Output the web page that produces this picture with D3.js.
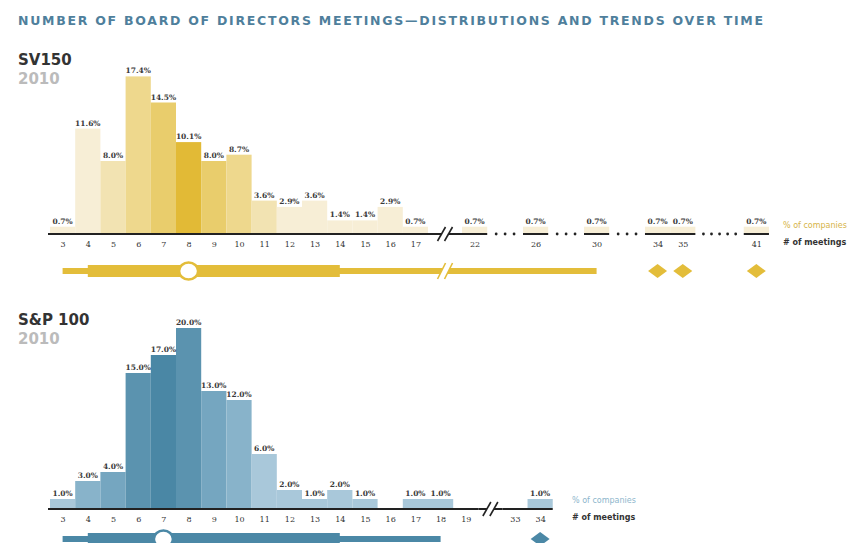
<!DOCTYPE html>
<html>
<head>
<meta charset="utf-8">
<script src="https://cdnjs.cloudflare.com/ajax/libs/d3/7.8.5/d3.min.js"></script>
<style>
  body { margin: 0; background: #fff; }
</style>
</head>
<body>
<div id="chart"></div>
<script>
// SV150 distribution (share of companies by # of meetings)
var svBins = [3, 4, 5, 6, 7, 8, 9, 10, 11, 12, 13, 14, 15, 16, 17, 22, 26, 30, 34, 35, 41];
var svPct = [0.7, 11.6, 8.0, 17.4, 14.5, 10.1, 8.0, 8.7, 3.6, 2.9, 3.6, 1.4, 1.4, 2.9, 0.7, 0.7, 0.7, 0.7, 0.7, 0.7, 0.7];
var svBox = [3, 4, 8, 14, 30];   // low whisker, box start, median, box end, high whisker
var svOutliers = [34, 35, 41];

// S&P 100 distribution
var spBins = [3, 4, 5, 6, 7, 8, 9, 10, 11, 12, 13, 14, 15, 16, 17, 18, 19, 33, 34];
var spPct = [1.0, 3.0, 4.0, 15.0, 17.0, 20.0, 13.0, 12.0, 6.0, 2.0, 1.0, 2.0, 1.0, 0, 1.0, 1.0, 0, 0, 1.0];
var spBox = [3, 4, 7, 14, 18];
var spOutliers = [34];

var width = 859, height = 543;

var panels = [
  { name: "SV150", year: "2010", bins: svBins, pct: svPct, box: svBox, outliers: svOutliers,
    breakAfter: 17, breakGap: 1.35, baseline: 233, boxY: 271, nameY: 65, yearY: 84,
    shades: ["#e2ba36", "#e9cd6c", "#eed88d", "#f2e3b2", "#f7eed6"],
    boxColor: "#e3bd3a", legendColor: "#d6b448", legendX: 783 },
  { name: "S&P 100", year: "2010", bins: spBins, pct: spPct, box: spBox, outliers: spOutliers,
    breakAfter: 19, breakGap: 0.95, baseline: 508, boxY: 539, nameY: 325, yearY: 344,
    shades: ["#4a87a5", "#5b93af", "#75a6c0", "#88b3ca", "#a9c8da"],
    boxColor: "#4b88a6", legendColor: "#8db6cc", legendX: 572 }
];

var svg = d3.select("#chart").append("svg")
    .attr("width", width)
    .attr("height", height);

// header
svg.append("text")
    .attr("x", 18)
    .attr("y", 25)
    .attr("textLength", 745)
    .attr("lengthAdjust", "spacing")
    .style("font-family", "DejaVu Sans")
    .style("font-weight", "bold")
    .style("font-size", "12.5px")
    .style("fill", "#4f7f9c")
    .text("NUMBER OF BOARD OF DIRECTORS MEETINGS—DISTRIBUTIONS AND TRENDS OVER TIME");

// one slot = one meeting count column
var xSlot = d3.scaleLinear().domain([0, 1]).range([50, 75.2]);
var y = d3.scaleLinear().domain([0, 20]).range([0, 180]);
var fmt = d3.format(".1f");

function slotsFor(p) {
  var s = [0];
  for (var i = 1; i < p.bins.length; i++) {
    var prev = p.bins[i - 1], diff = p.bins[i] - prev;
    if (diff == 1) s.push(s[i - 1] + 1);
    else if (prev == p.breakAfter) s.push(s[i - 1] + 1 + p.breakGap);
    else s.push(s[i - 1] + 1 + 0.42 + 0.25 * diff);
  }
  return s;
}

panels.forEach(function (p) {
  var slots = slotsFor(p);
  var centers = slots.map(function (s) { return xSlot(s + 0.5); });
  var xc = d3.scaleOrdinal(p.bins, centers);
  var shade = d3.scaleLinear().domain([0, 1, 2, 3, 4]).range(p.shades).clamp(true);
  var median = p.box[2];
  var g = svg.append("g");

  // titles
  g.append("text").attr("x", 18).attr("y", p.nameY)
      .style("font-family", "DejaVu Sans").style("font-weight", "bold")
      .style("font-size", "15px").style("fill", "#333").text(p.name);
  g.append("text").attr("x", 18).attr("y", p.yearY)
      .style("font-family", "DejaVu Sans").style("font-weight", "bold")
      .style("font-size", "15px").style("fill", "#bbb").text(p.year);

  var rows = p.bins.map(function (b, i) { return { bin: b, value: p.pct[i], slot: slots[i] }; })
      .filter(function (d) { return d.value > 0; });

  // bars
  g.selectAll(".bar").data(rows).enter().append("rect")
      .attr("class", "bar")
      .attr("x", function (d) { return xSlot(d.slot); })
      .attr("width", xSlot(1) - xSlot(0))
      .attr("y", function (d) { return p.baseline - y(d.value); })
      .attr("height", function (d) { return y(d.value); })
      .style("fill", function (d) { return shade(Math.abs(d.bin - median)); });

  // value labels
  g.selectAll(".val").data(rows).enter().append("text")
      .attr("class", "val")
      .attr("x", function (d) { return xSlot(d.slot + 0.5); })
      .attr("y", function (d) { return p.baseline - y(d.value) - 3; })
      .attr("text-anchor", "middle")
      .style("font-family", "DejaVu Serif").style("font-weight", "bold")
      .style("font-size", "7.5px").style("fill", "#3a3a3a")
      .text(function (d) { return fmt(d.value) + "%"; });

  // axis runs, breaks and dotted gaps
  var axisY = p.baseline + 1;
  var runStart = 0;
  for (var i = 1; i <= p.bins.length; i++) {
    if (i == p.bins.length || p.bins[i] != p.bins[i - 1] + 1) {
      var x0 = xSlot(slots[runStart]) - (runStart == 0 ? 2 : 0);
      var x1 = xSlot(slots[i - 1] + 1);
      g.append("line").attr("x1", x0).attr("x2", x1).attr("y1", axisY).attr("y2", axisY)
          .style("stroke", "#222").style("stroke-width", 2);
      if (i < p.bins.length) {
        var nx = xSlot(slots[i]);
        if (p.bins[i - 1] == p.breakAfter) {
          var mid = (x1 + nx) / 2;
          p.breakX = mid;
          g.append("line").attr("x1", x1).attr("x2", nx).attr("y1", axisY).attr("y2", axisY)
              .style("stroke", "#222").style("stroke-width", 2);
          drawBreak(g, mid, axisY, 7, "#222", 1.6);
        } else {
          var n = p.bins[i] - p.bins[i - 1] - 1;
          var dots = d3.range(n).map(function (k) { return x1 + (k + 1) * (nx - x1) / (n + 1); });
          g.selectAll(null).data(dots).enter().append("circle")
              .attr("cx", function (d) { return d; }).attr("cy", axisY).attr("r", 1.4)
              .style("fill", "#222");
        }
      }
      runStart = i;
    }
  }

  // tick labels
  var axis = d3.axisBottom(xc).tickSize(0).tickPadding(6);
  var ax = g.append("g").attr("transform", "translate(0," + (p.baseline + 2) + ")").call(axis);
  ax.select(".domain").remove();
  ax.selectAll("text")
      .style("font-family", "DejaVu Serif").style("font-size", "8px").style("fill", "#333");

  // legend
  g.append("text").attr("x", p.legendX).attr("y", p.baseline - 5)
      .style("font-family", "DejaVu Sans").style("font-size", "8px")
      .style("fill", p.legendColor).text("% of companies");
  g.append("text").attr("x", p.legendX).attr("y", p.baseline + 12)
      .style("font-family", "DejaVu Sans").style("font-weight", "bold").style("font-size", "8px")
      .style("fill", "#333").text("# of meetings");

  // box plot strip
  var by = p.boxY;
  g.append("line")
      .attr("x1", xc(p.box[0])).attr("x2", xc(p.box[4]))
      .attr("y1", by).attr("y2", by)
      .style("stroke", p.boxColor).style("stroke-width", 6);
  g.append("rect")
      .attr("x", xc(p.box[1])).attr("width", xc(p.box[3]) - xc(p.box[1]))
      .attr("y", by - 6).attr("height", 12)
      .style("fill", p.boxColor);
  if (p.box[4] > p.breakAfter && p.breakX) drawBreak(g, p.breakX, by, 8, p.boxColor, 1.6);
  g.append("ellipse")
      .attr("cx", xc(median)).attr("cy", by).attr("rx", 9.5).attr("ry", 8.5)
      .style("fill", "#fff").style("stroke", p.boxColor).style("stroke-width", 2.5);
  g.selectAll(".outlier").data(p.outliers).enter().append("path")
      .attr("class", "outlier")
      .attr("d", function (d) {
        var cx = xc(d);
        return "M" + (cx - 9.5) + "," + by + "L" + cx + "," + (by - 7) + "L" + (cx + 9.5) + "," + by + "L" + cx + "," + (by + 7) + "Z";
      })
      .style("fill", p.boxColor);
});

// "//" break mark with white gap
function drawBreak(g, x, yy, h, color, sw) {
  var dx = 4, gap = 3.5;
  g.append("path")
      .attr("d", "M" + (x - gap - dx) + "," + (yy + h) + "L" + (x - gap + dx) + "," + (yy - h) +
                 "L" + (x + gap + dx) + "," + (yy - h) + "L" + (x + gap - dx) + "," + (yy + h) + "Z")
      .style("fill", "#fff");
  [-gap, gap].forEach(function (o) {
    g.append("line")
        .attr("x1", x + o - dx).attr("y1", yy + h)
        .attr("x2", x + o + dx).attr("y2", yy - h)
        .style("stroke", color).style("stroke-width", sw);
  });
}
</script>
</body>
</html>
